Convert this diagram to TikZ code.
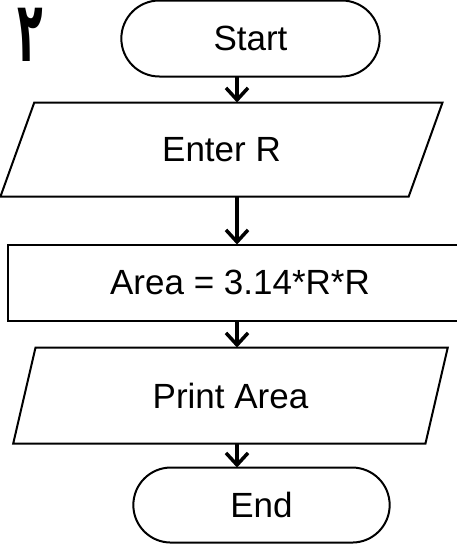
\documentclass[tikz,border=0pt]{standalone}
\usepackage{fontspec}
\setmainfont{Liberation Sans}
\newfontfamily\arabicfont[Script=Arabic, FakeStretch=0.5]{DejaVu Sans}
\TeXXeTstate=1
\usepackage{tikz}
\usetikzlibrary{shapes.geometric, shapes.misc, arrows.meta}
\usetikzlibrary{positioning}
\tikzstyle{startstop} = [rounded rectangle, minimum width=265pt, minimum
height=76pt, text centered, draw=black, line width=2pt, outer sep=0pt]
\tikzstyle{io} = [trapezium, trapezium left angle=70, trapezium right angle=110, minimum
width=443pt, minimum height=94pt, trapezium stretches=true, draw=black, line width=2pt, outer sep=0pt]
\tikzstyle{process} = [rectangle, minimum width=464pt, minimum height=76pt, text centered,
draw=black, line width=2pt, outer sep=0pt]
\tikzstyle{arrow} = [line width=3.5pt, -{Straight Barb[length=12pt, width=22pt]}]

\begin{document}
\begin{tikzpicture}[x=1pt, y=1pt, node distance=26pt, font=\fontsize{35}{40}\selectfont]
    \useasboundingbox (0,0) rectangle (457,-546);
    \node (num) [anchor=base west, inner sep=0pt] at (17,-61)
      {\arabicfont\bfseries\fontsize{84}{84}\selectfont\beginR ٢\endR};
    \node (start) [startstop] at (250.5,-38.5) {Start};
    \node (in1) [io, below=of start, xshift=-29pt] {Enter R};
    \node (pro1) [process, below=of in1, xshift=18.5pt, yshift=-22pt] {Area = 3.14*R*R};
    \node (in2) [io, below=of pro1, xshift=-9.5pt, yshift=-1pt,
      trapezium left angle=74, trapezium right angle=106, minimum width=435pt,
      minimum height=96pt] {Print Area};
    \node (stop) [startstop, below=of in2, xshift=31pt, yshift=2pt, minimum width=263pt,
      minimum height=75pt] {End};
    \coordinate (axis) at (237,0);

    \draw[arrow] (start.south -| axis) -- (in1.north -| axis);
    \draw[arrow] (in1.south -| axis) -- (pro1.north -| axis);
    \draw[arrow] (pro1.south -| axis) -- (in2.north -| axis);
    \draw[arrow] (in2.south -| axis) -- (stop.north -| axis);
  \end{tikzpicture}
\end{document}
